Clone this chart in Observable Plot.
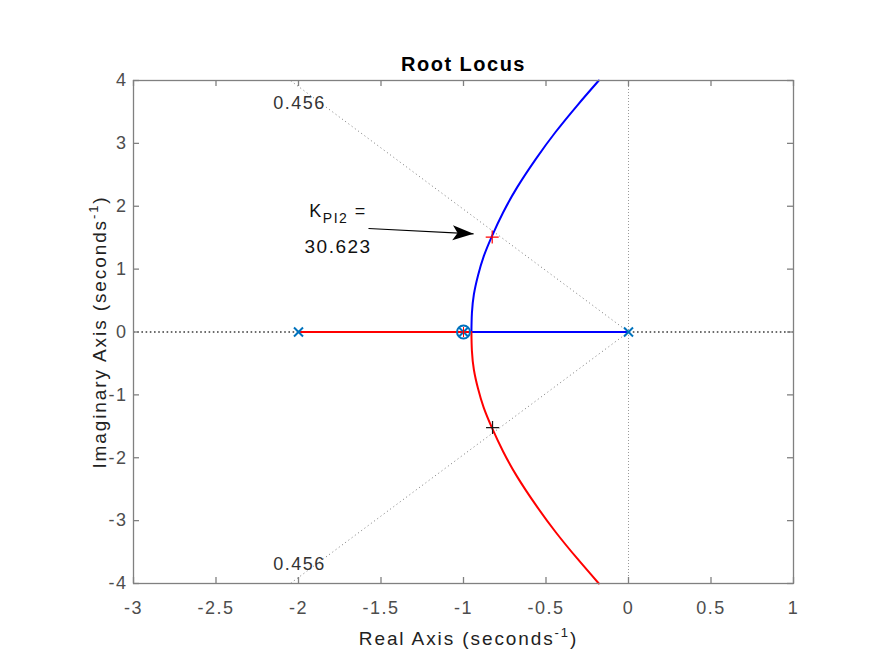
<!DOCTYPE html>
<html><head><meta charset="utf-8">
<script src="https://cdn.jsdelivr.net/npm/d3@7"></script>
<script src="https://cdn.jsdelivr.net/npm/@observablehq/plot@0.6"></script>
<style>html,body{margin:0;padding:0;background:#fff;}#chart{width:875px;height:656px;}</style>
</head><body><div id="chart"></div>
<script>
// ---------- data ----------
const titleText = "Root Locus";
const xLabelParts = ["Real Axis (seconds", "-1", ")"];
const yLabelParts = ["Imaginary Axis (seconds", "-1", ")"];
const xTicks = [-3, -2.5, -2, -1.5, -1, -0.5, 0, 0.5, 1];
const yTicks = [-4, -3, -2, -1, 0, 1, 2, 3, 4];
const xDomain = [-3, 1];
const yDomain = [-4, 4];

// open-loop poles (x) and zero (o)
const poleRe = [-2, 0, -1];
const zeroRe = [-1];

// real-axis portions of the locus
const blueAxisRe = [0, -0.952];
const redAxisRe = [-2, -0.952];

// complex conjugate branches (upper = blue, lower = red, mirrored)
const branchRe = [-0.952, -0.949, -0.937, -0.912, -0.878, -0.826, -0.760, -0.675, -0.561, -0.443, -0.311, -0.180];
const branchIm = [0, 0.30, 0.60, 0.90, 1.20, 1.534, 1.90, 2.30, 2.754, 3.177, 3.602, 4.0];

// selected gain points
const gainRe = [-0.826, -0.824];
const gainIm = [1.51, -1.52];
const gainColors = ["#ff0000", "#1a1a1a"];

// damping grid
const zeta = 0.456;
const zetaLabel = "0.456";
const zetaLabelRe = [-1.994, -1.994];
const zetaLabelIm = [3.633, -3.70];

// annotation
const annLine1Parts = ["K", "PI2", " ="];
const annLine2 = "30.623";
const annRe = -1.76;
const annLine1Im = 1.92;
const annLine2Im = 1.36;
const arrowFrom = {re: -1.576, im: 1.646};
const arrowTo = {re: -0.939, im: 1.561};

// ---------- layout ----------
const W = 875, H = 656, mL = 133, mR = 82, mT = 80, mB = 73;
const fw = W - mL - mR, fh = H - mT - mB;
const TICK = 6;
const poleBlue = "#0072BD";
const axisGray = "#808080";

const upper = branchRe.map((re, i) => ({re, im: branchIm[i]}));
const lower = branchRe.map((re, i) => ({re, im: -branchIm[i]}));
const blueAxis = blueAxisRe.map(re => ({re, im: 0}));
const redAxis = redAxisRe.map(re => ({re, im: 0}));
const zEnd = -yDomain[1] * zeta / Math.sqrt(1 - zeta * zeta);
const zetaLines = [{re: zEnd, im: yDomain[1]}, {re: zEnd, im: yDomain[0]}];
const zetaLabels = zetaLabelRe.map((re, i) => ({re, im: zetaLabelIm[i]}));
const gains = gainRe.map((re, i) => ({re, im: gainIm[i], c: gainColors[i]}));

const timesSym = {draw(ctx) {const r = 4.5; ctx.moveTo(-r, -r); ctx.lineTo(r, r); ctx.moveTo(-r, r); ctx.lineTo(r, -r);}};
const plusSym = (r) => ({draw(ctx) {ctx.moveTo(-r, 0); ctx.lineTo(r, 0); ctx.moveTo(0, -r); ctx.lineTo(0, r);}});
const headSym = {draw(ctx) {ctx.moveTo(0, 0); ctx.lineTo(-7.5, 21); ctx.lineTo(0, 16); ctx.lineTo(7.5, 21); ctx.closePath();}};
const adx = (arrowTo.re - arrowFrom.re) * fw / (xDomain[1] - xDomain[0]);
const ady = -(arrowTo.im - arrowFrom.im) * fh / (yDomain[1] - yDomain[0]);
const headRotate = Math.atan2(ady, adx) * 180 / Math.PI + 90;

const FONT = "'Liberation Sans', Arial, Helvetica, sans-serif";

const plot = Plot.plot({
  width: W, height: H,
  marginLeft: mL, marginRight: mR, marginTop: mT, marginBottom: mB,
  x: {domain: xDomain},
  y: {domain: yDomain},
  style: {fontFamily: FONT, background: "white", letterSpacing: "1.5px", overflow: "visible"},
  marks: [
    // grid lines
    Plot.ruleY([0], {stroke: "#3c3c3c", strokeDasharray: "1.6,2.6", strokeWidth: 1.3}),
    Plot.ruleX([0], {stroke: "#9a9a9a", strokeDasharray: "1,2", strokeWidth: 1}),
    Plot.link(zetaLines, {x1: 0, y1: 0, x2: "re", y2: "im", stroke: "#7a7a7a", strokeDasharray: "1,3", strokeWidth: 1}),
    // locus
    Plot.line(redAxis, {x: "re", y: "im", stroke: "#ff0000", strokeWidth: 2}),
    Plot.line(blueAxis, {x: "re", y: "im", stroke: "#0000ff", strokeWidth: 2}),
    Plot.line(upper, {x: "re", y: "im", stroke: "#0000ff", strokeWidth: 2, curve: "natural"}),
    Plot.line(lower, {x: "re", y: "im", stroke: "#ff0000", strokeWidth: 2, curve: "natural"}),
    // box and inward ticks
    Plot.frame({stroke: axisGray, strokeWidth: 1.3}),
    Plot.tickX(xTicks, {x: d => d, insetTop: fh - TICK, stroke: axisGray, strokeWidth: 1.3}),
    Plot.tickX(xTicks, {x: d => d, insetBottom: fh - TICK, stroke: axisGray, strokeWidth: 1.3}),
    Plot.tickY(yTicks, {y: d => d, insetRight: fw - TICK, stroke: axisGray, strokeWidth: 1.3}),
    Plot.tickY(yTicks, {y: d => d, insetLeft: fw - TICK, stroke: axisGray, strokeWidth: 1.3}),
    Plot.axisX({ticks: xTicks, tickSize: 0, tickPadding: 18, tickFormat: d => String(d), fontSize: 18, color: "#4d4d4d", label: null}),
    Plot.axisY({ticks: yTicks, tickSize: 0, tickPadding: 6, tickFormat: d => String(d), fontSize: 18, color: "#4d4d4d", label: null}),
    // poles / zero
    Plot.dot(zeroRe, {x: d => d, y: 0, r: 6.5, stroke: poleBlue, strokeWidth: 2, fill: "none"}),
    Plot.dot(poleRe, {x: d => d, y: 0, symbol: timesSym, stroke: poleBlue, strokeWidth: 2, fill: "none"}),
    Plot.dot(zeroRe, {x: d => d, y: 0, symbol: plusSym(5), stroke: "#ff0000", strokeWidth: 1, fill: "none"}),
    // gain markers
    Plot.dot(gains, {x: "re", y: "im", symbol: plusSym(6.5), stroke: d => d.c, strokeWidth: 1.2, fill: "none"}),
    // damping labels
    Plot.text(zetaLabels, {x: "re", y: "im", text: () => zetaLabel, fontSize: 18, fill: "#333333"}),
    // annotation arrow
    Plot.link([arrowFrom], {x1: "re", y1: "im", x2: () => arrowTo.re, y2: () => arrowTo.im, stroke: "black", strokeWidth: 1.2}),
    Plot.dot([arrowTo], {x: "re", y: "im", symbol: headSym, rotate: headRotate, fill: "black", stroke: "none"}),
    Plot.text([annLine1Parts.join("")], {x: annRe, y: annLine1Im, text: d => d, fontSize: 18, fill: "#111"}),
    Plot.text([annLine2], {x: annRe, y: annLine2Im, text: d => d, fontSize: 19, fill: "#111"}),
    // title and axis labels
    Plot.text([titleText], {frameAnchor: "top", dy: -24, text: d => d, fontSize: 20, fontWeight: "bold", fill: "black"}),
    Plot.text([xLabelParts.join("")], {frameAnchor: "bottom", dy: 61, dx: 5, textAnchor: "middle", text: d => d, fontSize: 19, fill: "#222"}),
    Plot.text([yLabelParts.join("")], {frameAnchor: "left", dx: -34, rotate: -90, textAnchor: "middle", text: d => d, fontSize: 19, fill: "#222"})
  ]
});

document.getElementById("chart").appendChild(plot);

// rich text: superscripts / subscripts
function richify(full, parts, kinds, spacing) {
  d3.select(plot).selectAll("text").each(function () {
    if (this.textContent !== full) return;
    const el = d3.select(this);
    if (spacing) el.style("letter-spacing", spacing);
    el.text(null);
    let shift = 0;
    parts.forEach((p, i) => {
      const t = el.append("tspan").text(p);
      const k = kinds[i];
      let target = 0;
      if (k === "sup") { target = -8; t.attr("font-size", 13); }
      else if (k === "sub") { target = 6; t.attr("font-size", 14); }
      if (target !== shift) { t.attr("dy", target - shift); shift = target; }
    });
  });
}
richify(xLabelParts.join(""), xLabelParts, ["n", "sup", "n"], "1.9px");
richify(yLabelParts.join(""), yLabelParts, ["n", "sup", "n"], "1.9px");
richify(annLine1Parts.join(""), annLine1Parts, ["n", "sub", "n"]);
</script>
</body></html>
